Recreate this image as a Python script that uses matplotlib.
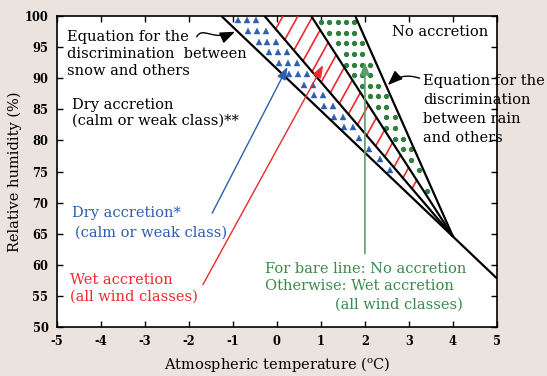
import numpy as np
import matplotlib
matplotlib.use("Agg")
import matplotlib.pyplot as plt
from matplotlib.patches import FancyArrowPatch
from matplotlib.path import Path

# ---------------- data ----------------
x_ticks = [-5, -4, -3, -2, -1, 0, 1, 2, 3, 4, 5]
y_ticks = [50, 55, 60, 65, 70, 75, 80, 85, 90, 95, 100]

# snow / others discrimination line (temperature degC, RH %)
snow_line_t = [-1.26, 5.0]
snow_line_rh = [100.0, 57.8]

# other boundary lines: temperature at RH = 100 %, all meeting the snow line at conv_t
conv_t = 4.0
upper_dry_t100 = -0.28   # upper limit of dry accretion (triangles)
upper_wet_t100 = 0.78    # upper limit of wet accretion (hatched)
rain_line_t100 = 1.78    # rain / others discrimination

# ---------------- style ----------------
plt.rcParams['font.family'] = ['DejaVu Serif']
plt.rcParams['mathtext.fontset'] = 'dejavuserif'
BG = '#ebe4de'
BLUE = '#2c5fb2'
RED = '#ee2a2e'
GREEN_DOT = '#2f7f3f'
GREEN_TXT = '#3a8a4c'
GREEN_LINE = '#5e9e6e'
FS = 10.5

fig = plt.figure(figsize=(5.47, 3.76), dpi=100, facecolor=BG)
ax = fig.add_axes([0.1037, 0.1303, 0.8049, 0.8271])
ax.set_facecolor('white')
ax.set_xlim(-5, 5)
ax.set_ylim(50, 100)

conv_rh = float(np.interp(conv_t, snow_line_t, snow_line_rh))


def snow_t(rh):
    return snow_line_t[0] + (snow_line_rh[0] - rh) / (snow_line_rh[0] - snow_line_rh[1]) * (snow_line_t[1] - snow_line_t[0])


def line_t(t100, rh):
    return t100 + (100 - rh) / (100 - conv_rh) * (conv_t - t100)


# boundary lines
ax.plot(snow_line_t, snow_line_rh, color='black', lw=1.6, solid_capstyle='butt', zorder=4)
for t100 in (upper_dry_t100, upper_wet_t100, rain_line_t100):
    ax.plot([t100, conv_t], [100, conv_rh], color='black', lw=1.6, solid_capstyle='butt', zorder=4)

# triangles (dry accretion, calm or weak)
tri_step, tri_margin, tri_row = 0.204, 0.136, 1.72
tri_x, tri_y = [], []
rh = 99.3
while rh > conv_rh:
    lo = snow_t(rh) + tri_margin
    hi = line_t(upper_dry_t100, rh) - tri_margin
    w = hi - lo
    if w >= 0:
        n = min(3, int(w / tri_step) + 1)
        mid = 0.5 * (lo + hi)
        for i in range(n):
            tri_x.append(mid + (i - (n - 1) / 2) * tri_step)
            tri_y.append(rh)
    rh -= tri_row
ax.plot(tri_x, tri_y, ls='none', marker='^', ms=4.6, color=BLUE, mec=BLUE, mew=0.3, zorder=3)

# red hatching (wet accretion)
h_slope, h_start, h_step, n_hatch = 12.8, 0.138, 0.34, 16


def hatch_cross(t100, x0):
    g = (conv_t - t100) / (100 - conv_rh)
    t = (t100 + h_slope * g * x0) / (1 + h_slope * g)
    return t, 100 + h_slope * (t - x0)


for k in range(n_hatch):
    x0 = h_start + k * h_step
    t_lo, rh_lo = hatch_cross(upper_dry_t100, x0)
    t_hi, rh_hi = hatch_cross(upper_wet_t100, x0)
    if rh_hi > 100:
        t_hi, rh_hi = x0, 100.0
    ax.plot([t_lo, t_hi], [rh_lo, rh_hi], color=RED, lw=1.2, zorder=3)

# green dots
dot_cols = 1.01 + 0.185 * np.arange(-3, 20)
dot_rows = 99.0 - 1.7 * np.arange(0, 22)
dx, dy = [], []
for r in dot_rows:
    if r <= conv_rh:
        continue
    for c in dot_cols:
        if c - line_t(upper_wet_t100, r) >= 0.07 and line_t(rain_line_t100, r) - c >= 0.07:
            dx.append(c)
            dy.append(r)
ax.plot(dx, dy, ls='none', marker='o', ms=2.8, color=GREEN_DOT, mec=GREEN_DOT, zorder=3)

# arrows
ax.annotate('', xy=(0.24, 91.8), xytext=(-1.47, 68.3),
            arrowprops=dict(arrowstyle='-|>,head_length=0.75,head_width=0.28', color=BLUE,
                            lw=1.0, shrinkA=0, shrinkB=0, mutation_scale=10), zorder=5)
ax.annotate('', xy=(1.05, 92.1), xytext=(-1.68, 56.8),
            arrowprops=dict(arrowstyle='-|>,head_length=0.75,head_width=0.28', color=RED,
                            lw=1.0, shrinkA=0, shrinkB=0, mutation_scale=10), zorder=5)
ax.annotate('', xy=(2.0, 92.6), xytext=(2.0, 61.8),
            arrowprops=dict(arrowstyle='-|>,head_length=0.75,head_width=0.28', color=GREEN_LINE,
                            lw=1.2, shrinkA=0, shrinkB=0, mutation_scale=10), zorder=5)
ax.annotate('', xy=(2.52, 88.9), xytext=(3.24, 90.0),
            arrowprops=dict(arrowstyle='-|>,head_length=0.9,head_width=0.35', color='black',
                            lw=1.0, shrinkA=0, shrinkB=0, mutation_scale=10,
                            connectionstyle='arc3,rad=0.3'), zorder=5)
snow_path = Path([(-1.82, 96.67), (-1.677, 98.4), (-1.45, 95.9), (-0.95, 97.47)],
                 [Path.MOVETO, Path.CURVE4, Path.CURVE4, Path.CURVE4])
ax.add_patch(FancyArrowPatch(path=snow_path, arrowstyle='-|>,head_length=0.9,head_width=0.35',
                             mutation_scale=10, color='black', lw=1.0, zorder=5))

# texts
ax.text(-4.76, 93.9, 'Equation for the\ndiscrimination  between\nsnow and others',
        fontsize=FS, ha='left', va='center', linespacing=1.27, color='black')
ax.text(2.61, 97.5, 'No accretion', fontsize=FS, ha='left', va='center', color='black')
ax.text(3.33, 84.95, 'Equation for the\ndiscrimination\nbetween rain\nand others',
        fontsize=FS, ha='left', va='center', linespacing=1.47, color='black')
ax.text(-4.66, 84.4, 'Dry accretion\n(calm or weak class)**', fontsize=FS,
        ha='left', va='center', linespacing=1.2, color='black')
ax.text(-4.66, 68.28, 'Dry accretion*', fontsize=FS, ha='left', va='center', color=BLUE)
ax.text(-4.58, 65.23, '(calm or weak class)', fontsize=FS, ha='left', va='center', color=BLUE)
ax.text(-4.70, 56.2, 'Wet accretion\n(all wind classes)', fontsize=FS, ha='left', va='center',
        linespacing=1.22, color=RED)
ax.text(-0.27, 57.96, 'For bare line: No accretion\nOtherwise: Wet accretion', fontsize=FS,
        ha='left', va='center', linespacing=1.24, color=GREEN_TXT)
ax.text(4.235, 53.54, '(all wind classes)', fontsize=FS, ha='right', va='center', color=GREEN_TXT)

# axes styling
ax.set_xticks(x_ticks)
ax.set_yticks(y_ticks)
ax.set_xticklabels([str(v) for v in x_ticks])
ax.set_yticklabels([str(v) for v in y_ticks])
ax.tick_params(direction='in', length=4, width=1.0, top=True, right=True,
               labelsize=8.3, pad=6)
for lab in ax.get_xticklabels() + ax.get_yticklabels():
    lab.set_fontweight('bold')
for s in ax.spines.values():
    s.set_linewidth(1.2)
ax.set_xlabel('Atmospheric temperature ($^{\\mathrm{o}}$C)', fontsize=FS)
ax.set_ylabel('Relative humidity (%)', fontsize=FS)
ax.xaxis.set_label_coords(0.5, -0.09)
ax.yaxis.set_label_coords(-0.08, 0.5)

fig.savefig('out.png', dpi=100, facecolor=BG)
